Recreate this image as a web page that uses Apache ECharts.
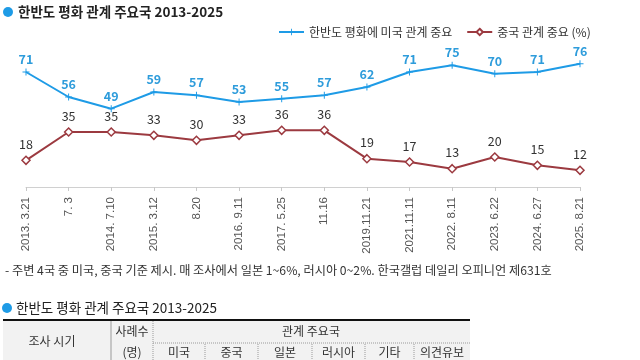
<!DOCTYPE html>
<html>
<head>
<meta charset="utf-8">
<script src="https://cdn.jsdelivr.net/npm/echarts@6/dist/echarts.min.js"></script>
<style>
html,body{margin:0;padding:0;background:#fff;}
#c{width:640px;height:360px;}
</style>
</head>
<body>
<div id="c"></div>
<script>
const categories = ['2013. 3.21','7. 3','2014. 7.10','2015. 3.12','8.20','2016. 9.11','2017. 5.25','11.16','2019.11.21','2021.11.11','2022. 8.11','2023. 6.22','2024. 6.27','2025. 8.21'];
const usValues = [71,56,49,59,57,53,55,57,62,71,75,70,71,76];
const chinaValues = [18,35,35,33,30,33,36,36,19,17,13,20,15,12];
const seriesNames = ['한반도 평화에 미국 관계 중요','중국 관계 중요 (%)'];
const titleText = '한반도 평화 관계 주요국 2013-2025';
const noteText = '- 주변 4국 중 미국, 중국 기준 제시. 매 조사에서 일본 1~6%, 러시아 0~2%. 한국갤럽 데일리 오피니언 제631호';
const tableCols = ['미국','중국','일본','러시아','기타','의견유보'];

const FONT = '"Noto Sans CJK KR", "Noto Sans", sans-serif';
const BLUE = '#1E9BE6';
const RED = '#9C3A40';
const plus = 'path://M4.3,0H5.7V4.3H10V5.7H5.7V10H4.3V5.7H0V4.3H4.3Z';

const chart = echarts.init(document.getElementById('c'));

const colEdges = [153,205,258,312,365,414,470];
const tableG = [];
tableG.push({type:'rect', shape:{x:3,y:320,width:467,height:40}, style:{fill:'#f2f2f2'}, silent:true});
tableG.push({type:'line', shape:{x1:3,y1:320,x2:470,y2:320}, style:{stroke:'#111',lineWidth:2}});
tableG.push({type:'line', shape:{x1:111,y1:321,x2:111,y2:360}, style:{stroke:'#9a9a9a',lineWidth:1}});
tableG.push({type:'line', shape:{x1:153,y1:321,x2:153,y2:360}, style:{stroke:'#9a9a9a',lineWidth:1,lineDash:[1,1]}});
tableG.push({type:'line', shape:{x1:153,y1:343,x2:470,y2:343}, style:{stroke:'#9a9a9a',lineWidth:1,lineDash:[1,1]}});
for (let i = 1; i < colEdges.length - 1; i++) {
  tableG.push({type:'line', shape:{x1:colEdges[i],y1:344,x2:colEdges[i],y2:360}, style:{stroke:'#9a9a9a',lineWidth:1,lineDash:[1,1]}});
}
const tstyle = (t,x,y) => ({type:'text', x:x, y:y, style:{text:t, fill:'#333', font:'12px '+FONT, align:'center', verticalAlign:'middle'}});
tableG.push(tstyle('조사 시기',52,341));
tableG.push(tstyle('사례수',132,331));
tableG.push(tstyle('(명)',132,352));
tableG.push(tstyle('관계 주요국',311,331));
tableCols.forEach((c,i)=>{
  tableG.push(tstyle(c,(colEdges[i]+colEdges[i+1])/2,352));
});

chart.setOption({
  animation:false,
  backgroundColor:'#fff',
  textStyle:{fontFamily:FONT},
  graphic:[
    {type:'circle', shape:{cx:8,cy:12,r:5}, style:{fill:BLUE}},
    {type:'text', x:18, y:12, style:{text:titleText, fill:'#222', font:'bold 13.5px '+FONT, verticalAlign:'middle'}},
    {type:'text', x:5, y:270, style:{text:noteText, fill:'#333', font:'12.2px '+FONT, verticalAlign:'middle'}},
    {type:'circle', shape:{cx:7,cy:308,r:5}, style:{fill:BLUE}},
    {type:'text', x:16, y:308, style:{text:titleText, fill:'#222', font:'13.5px '+FONT, verticalAlign:'middle'}}
  ].concat(tableG),
  legend:{
    left:273, top:21,
    itemWidth:25, itemHeight:8, itemGap:14,
    textStyle:{fontSize:12, color:'#333', fontFamily:FONT},
    data:seriesNames
  },
  grid:{left:26, right:60, top:57, bottom:173},
  xAxis:{
    type:'category', data:categories, boundaryGap:false,
    axisLine:{lineStyle:{color:'#d0d0d0'}},
    axisTick:{show:true, length:4, lineStyle:{color:'#c8c8c8'}},
    axisLabel:{rotate:90, fontSize:11.5, color:'#555', margin:10, fontFamily:'"Liberation Sans", Arial, sans-serif', interval:0}
  },
  yAxis:{type:'value', min:2, max:80, show:false, splitLine:{show:false}},
  series:[
    {
      name:seriesNames[0], type:'line', data:usValues,
      lineStyle:{color:BLUE, width:2}, itemStyle:{color:BLUE},
      symbol:plus, symbolSize:7, showAllSymbol:true,
      label:{show:true, position:'top', distance:3, color:'#2E9CDB', fontWeight:'bold', fontSize:12.5, fontFamily:FONT}
    },
    {
      name:seriesNames[1], type:'line', data:chinaValues,
      lineStyle:{color:RED, width:2}, itemStyle:{color:'#fff', borderColor:RED, borderWidth:1.5},
      symbol:'diamond', symbolSize:8, showAllSymbol:true,
      label:{show:true, position:'top', distance:5, color:'#333', fontSize:12.5, fontFamily:FONT}
    }
  ]
});
</script>
</body>
</html>
